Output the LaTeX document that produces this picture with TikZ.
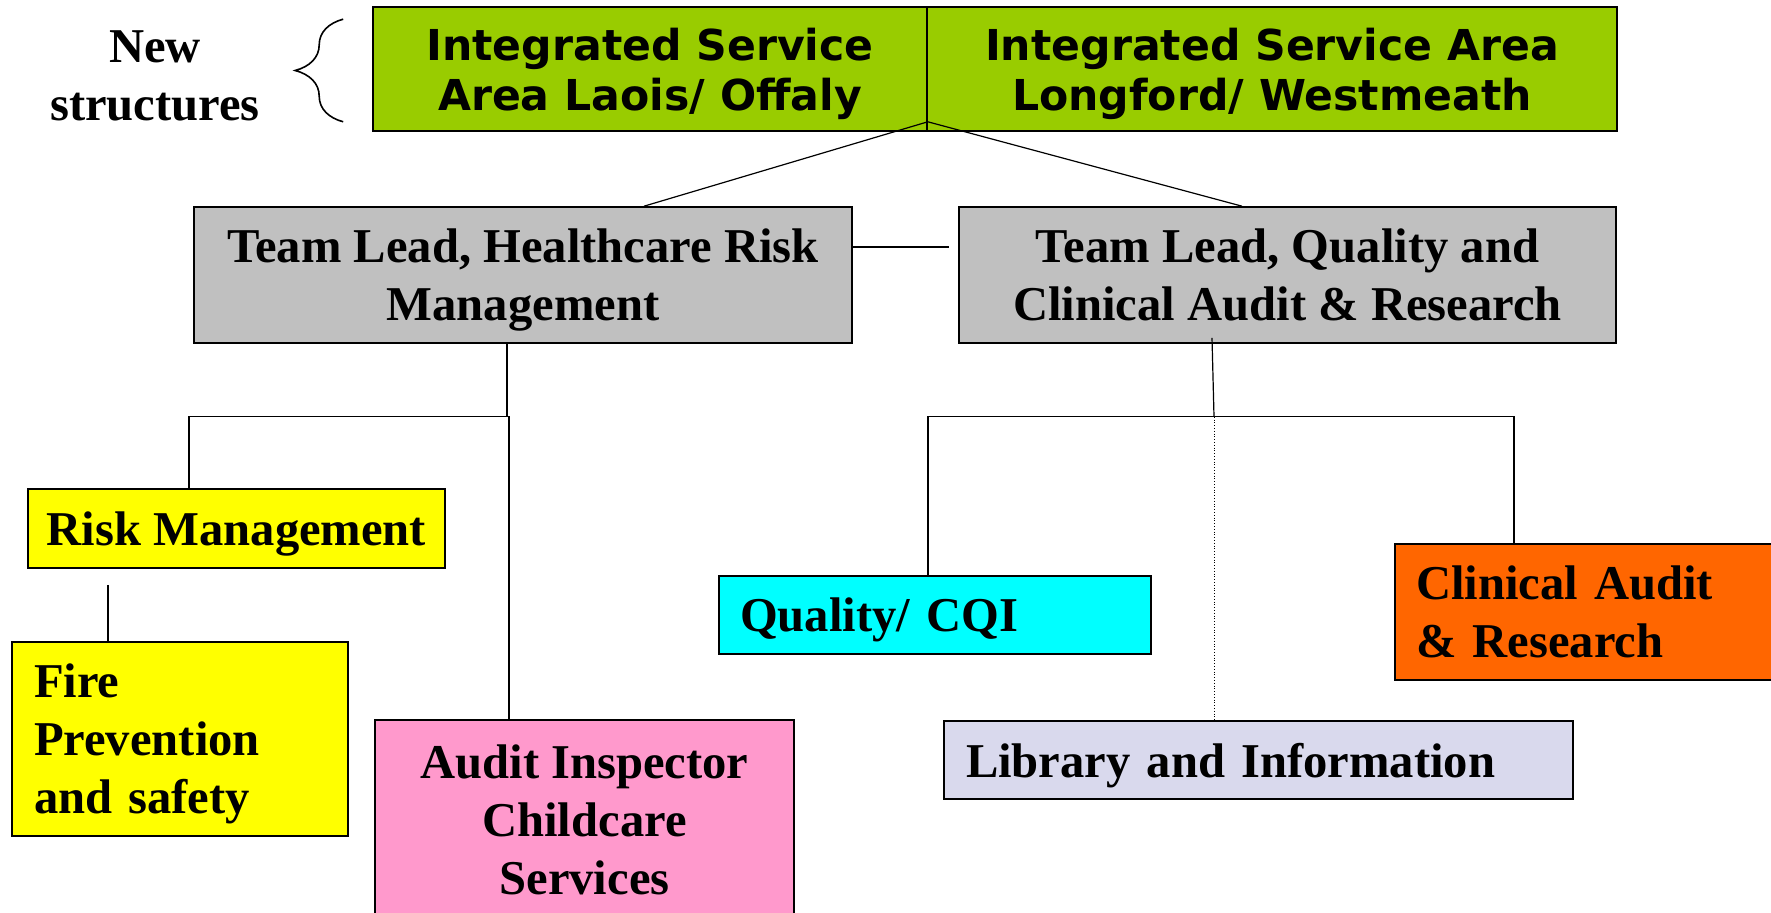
\documentclass[tikz,border=0pt]{standalone}
\usepackage{fontspec}
\setmainfont{Liberation Serif}
\newfontfamily\tahoma{DejaVu Sans}
\usetikzlibrary{decorations.pathreplacing}
\definecolor{isagreen}{HTML}{99CC00}
\definecolor{tlgrey}{HTML}{C0C0C0}
\definecolor{rmyellow}{HTML}{FFFF00}
\definecolor{auditpink}{HTML}{FF99CC}
\definecolor{cqicyan}{HTML}{00FFFF}
\definecolor{clinorange}{HTML}{FF6600}
\definecolor{libblue}{HTML}{D9D9ED}

\begin{document}
\begin{tikzpicture}[x=0.5pt, y=-0.5pt,
  box/.style={draw, line width=0.8pt, inner sep=0pt, font=\bfseries\fontsize{24.3}{29}\selectfont},
  ctr/.style={box, align=center, text depth=0pt},
  lft/.style={box, align=left},
  isa/.style={ctr, fill=isagreen, font=\tahoma\bfseries\fontsize{21.3}{25}\selectfont,
    minimum width=#1, minimum height=62pt},
  link/.style={line width=0.6pt}]

  \useasboundingbox (0,0) rectangle (1771,913);
  \fill[white] (0,0) rectangle (1771,913);

  \node[isa=277pt] (isaLO) at (650,69) {Integrated Service\\Area Laois/ Offaly};
  \node[isa=345pt] (isaLW) at (1272,69) {Integrated Service Area\\Longford/ Westmeath};
  \node[font=\bfseries\fontsize{24.3}{29}\selectfont, align=center] (newStr) at (155,76) {New\\structures};

  \node[ctr, fill=tlgrey, minimum width=329pt, minimum height=68pt] (tlRisk) at (523,275)
    {Team Lead, Healthcare Risk\\Management};
  \node[ctr, fill=tlgrey, minimum width=328.5pt, minimum height=68pt] (tlQual) at (1287.5,275)
    {Team Lead, Quality and\\Clinical Audit \& Research};

  \node[ctr, fill=rmyellow, minimum width=208.5pt, minimum height=39.5pt] (riskMgmt) at (236.5,528.5) {Risk Management};
  \node[lft, fill=rmyellow, text width=146pt, inner xsep=11pt, text depth=58pt, minimum height=97pt] (fire) at (180,739)
    {Fire\\Prevention\\and safety};
  \node[ctr, fill=auditpink, minimum width=209.5pt, minimum height=100pt] (auditInsp) at (584.5,820)
    {Audit Inspector\\Childcare\\Services};

  \node[lft, fill=cqicyan, text width=195pt, inner xsep=10.5pt, text depth=0pt, minimum height=39pt] (quality) at (935,615) {Quality/ CQI};
  \node[lft, fill=clinorange, text width=181.5pt, inner xsep=10.5pt, minimum height=68pt] (clinical) at (1597.5,612)
    {Clinical Audit\\\& Research};
  \node[lft, fill=libblue, text width=292.5pt, inner xsep=11pt, text depth=0pt, minimum height=39pt] (library) at (1258.5,760)
    {Library and Information};

  % brace in front of the two new areas
  \draw[line width=0.8pt, decorate, decoration={brace, amplitude=24pt}]
    ([xshift=-14.5pt,yshift=5pt]isaLO.south west) -- ([xshift=-14.5pt,yshift=-6.5pt]isaLO.north west);

  \coordinate (apex) at ([yshift=5pt]isaLO.south east);
  \draw[link] (apex) -- ([xshift=60.5pt]tlRisk.north); %% areas->risk lead
  \draw[link] (apex) -- ([xshift=-22.75pt]tlQual.north); %% areas->quality lead
  \draw[link] ([yshift=14pt]tlRisk.east) -- ([yshift=14pt,xshift=-4.5pt]tlQual.west);

  % risk side
  \coordinate (lbus) at ([xshift=-8pt,yshift=-36.5pt]tlRisk.south);
  \draw[link] (tlRisk.south -| lbus) -- (lbus);
  \draw[link] ([xshift=-23.75pt]riskMgmt.north) |- (lbus);
  \draw[link] ([xshift=-37.75pt]auditInsp.north) |- (lbus);
  \draw[link] ([xshift=-64.25pt,yshift=-8pt]riskMgmt.south) -- ([xshift=-36pt]fire.north);

  % quality side
  \coordinate (rbus) at ([xshift=-36.75pt,yshift=-36.5pt]tlQual.south);
  \draw[link] ([xshift=-37.75pt,yshift=3pt]tlQual.south) -- (rbus);
  \draw[link] ([xshift=-3.5pt]quality.north) |- (rbus);
  \draw[link] ([xshift=-41.75pt]clinical.north) |- (rbus);
  \draw[link, line width=0.4pt, densely dotted] (rbus) -- ([xshift=-22.25pt]library.north);
\end{tikzpicture}
\end{document}
